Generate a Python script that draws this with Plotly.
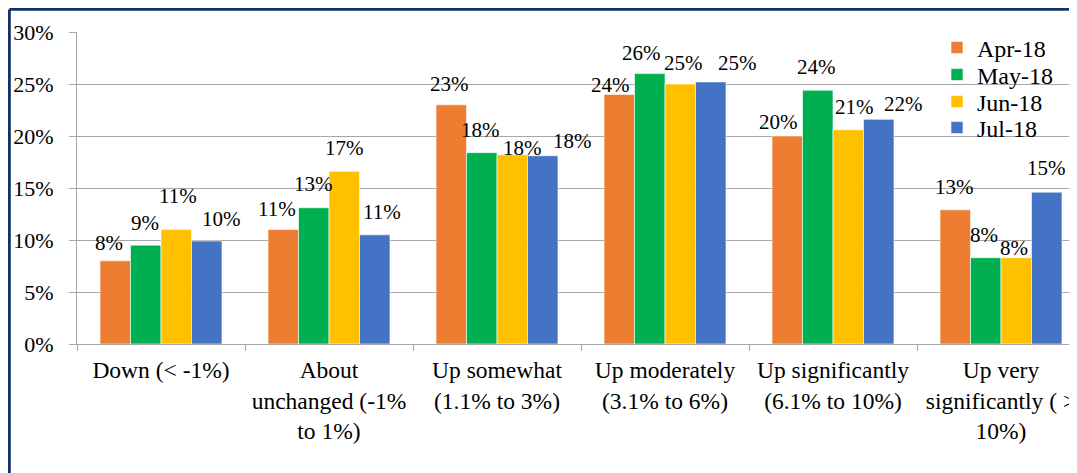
import plotly.graph_objects as go

# ---- data ----
categories = [
    "Down (< -1%)",
    "About<br>unchanged (-1%<br>to 1%)",
    "Up somewhat<br>(1.1% to 3%)",
    "Up moderately<br>(3.1% to 6%)",
    "Up significantly<br>(6.1% to 10%)",
    "Up very<br>significantly ( ><br>10%)",
]
series_names = ["Apr-18", "May-18", "Jun-18", "Jul-18"]
apr_18 = [8.0, 11.0, 23.0, 24.0, 20.0, 12.9]
may_18 = [9.5, 13.1, 18.4, 26.0, 24.4, 8.3]
jun_18 = [11.0, 16.6, 18.2, 25.0, 20.6, 8.3]
jul_18 = [9.9, 10.5, 18.1, 25.2, 21.6, 14.6]
apr_labels = ["8%", "11%", "23%", "24%", "20%", "13%"]
may_labels = ["9%", "13%", "18%", "26%", "24%", "8%"]
jun_labels = ["11%", "17%", "18%", "25%", "21%", "8%"]
jul_labels = ["10%", "11%", "18%", "25%", "22%", "15%"]
y_tick_values = [0, 5, 10, 15, 20, 25, 30]
y_tick_labels = ["0%", "5%", "10%", "15%", "20%", "25%", "30%"]

# ---- style ----
colors = ["#ED7D31", "#00B050", "#FFC000", "#4472C4"]
# per-label pixel nudges (dx, dy) relative to bar top centre
label_nudges = [
    [(-6, 18), (-6, 21), (-2, 21), (-9, 9), (-9, 14), (-1, 23)],
    [(-1, 22), (0, 24), (-1, 23), (-8, 21), (-1, 23), (-2, 23)],
    [(2, 34), (0, 23), (10, 7), (3, 21), (6, 23), (-2, 10)],
    [(15, 22), (7, 23), (30, 15), (27, 19), (25, 15), (0, 24)],
]
# legend text centre rows (figure px from top)
legend_rows_px = [40, 67, 94, 120]
FONT = "Liberation Serif, Times New Roman, serif"
GRID = "#A6A6A6"
BORDER = "#14306A"
bargap = 0.274

# page has an 8px body margin, so the figure starts at (8, 8)
W, H = 1069, 465
ML, MR, MT, MB = 69, 0, 24, 129
plot_w = W - ML - MR
plot_h = H - MT - MB
slot_px = 168.0
x_range = [-0.5, -0.5 + plot_w / slot_px]

values = [apr_18, may_18, jun_18, jul_18]
labels = [apr_labels, may_labels, jun_labels, jul_labels]
legend_ids = ["legend", "legend2", "legend3", "legend4"]

fig = go.Figure()
for name, vals, col, lg in zip(series_names, values, colors, legend_ids):
    fig.add_trace(go.Bar(
        x=categories, y=vals, name=name, legend=lg,
        marker=dict(color=col, line=dict(color="white", width=0.6)),
    ))

n = len(series_names)
bw = (1 - bargap) / n
annotations = []
for j in range(n):
    for i in range(len(categories)):
        dx, dy = label_nudges[j][i]
        annotations.append(dict(
            x=i + (j - (n - 1) / 2) * bw, y=values[j][i], xref="x", yref="y",
            text=labels[j][i], showarrow=False,
            xanchor="center", yanchor="middle", xshift=dx, yshift=dy,
            font=dict(family=FONT, size=21, color="#000000"),
        ))

# frame lines (left and top) of the chart area
border_w = 2.8
lx = (border_w / 2 - ML) / plot_w
ty = 1 + (MT - border_w / 2) / plot_h
by = -MB / plot_h
shapes = [
    dict(type="line", xref="paper", yref="paper", x0=lx, x1=lx, y0=by - 0.05, y1=ty,
         line=dict(color=BORDER, width=border_w)),
    dict(type="line", xref="paper", yref="paper", x0=lx, x1=1.05, y0=ty, y1=ty,
         line=dict(color=BORDER, width=border_w)),
]

legend_x = (929 - ML) / plot_w
legend_common = dict(x=legend_x, xanchor="left", yanchor="middle",
                     bgcolor="rgba(0,0,0,0)", font=dict(family=FONT, size=24),
                     itemwidth=30)
legends = {}
for lg, row in zip(legend_ids, legend_rows_px):
    legends[lg] = dict(legend_common, y=1 - (row - MT) / plot_h)

fig.update_layout(
    width=W, height=H,
    margin=dict(l=ML, r=MR, t=MT, b=MB, pad=0),
    paper_bgcolor="white", plot_bgcolor="white",
    barmode="group", bargap=bargap, bargroupgap=0,
    font=dict(family=FONT, size=22, color="#000000"),
    showlegend=True,
    annotations=annotations,
    shapes=shapes,
    **legends,
)
fig.update_xaxes(
    type="category", range=x_range,
    showline=True, linecolor=GRID, linewidth=1,
    ticks="outside", ticklen=6, tickcolor=GRID, tickson="boundaries",
    showgrid=False, zeroline=False,
    tickfont=dict(family=FONT, size=23.5),
    ticklabelstandoff=5,
)
fig.update_yaxes(
    range=[0, 30], tickmode="array", tickvals=y_tick_values, ticktext=y_tick_labels,
    showline=True, linecolor=GRID, linewidth=1,
    ticks="outside", ticklen=7, tickcolor=GRID,
    showgrid=True, gridcolor=GRID, gridwidth=1, zeroline=False,
    tickfont=dict(family=FONT, size=22),
    ticklabelstandoff=11,
)

fig.write_html("out.html")
